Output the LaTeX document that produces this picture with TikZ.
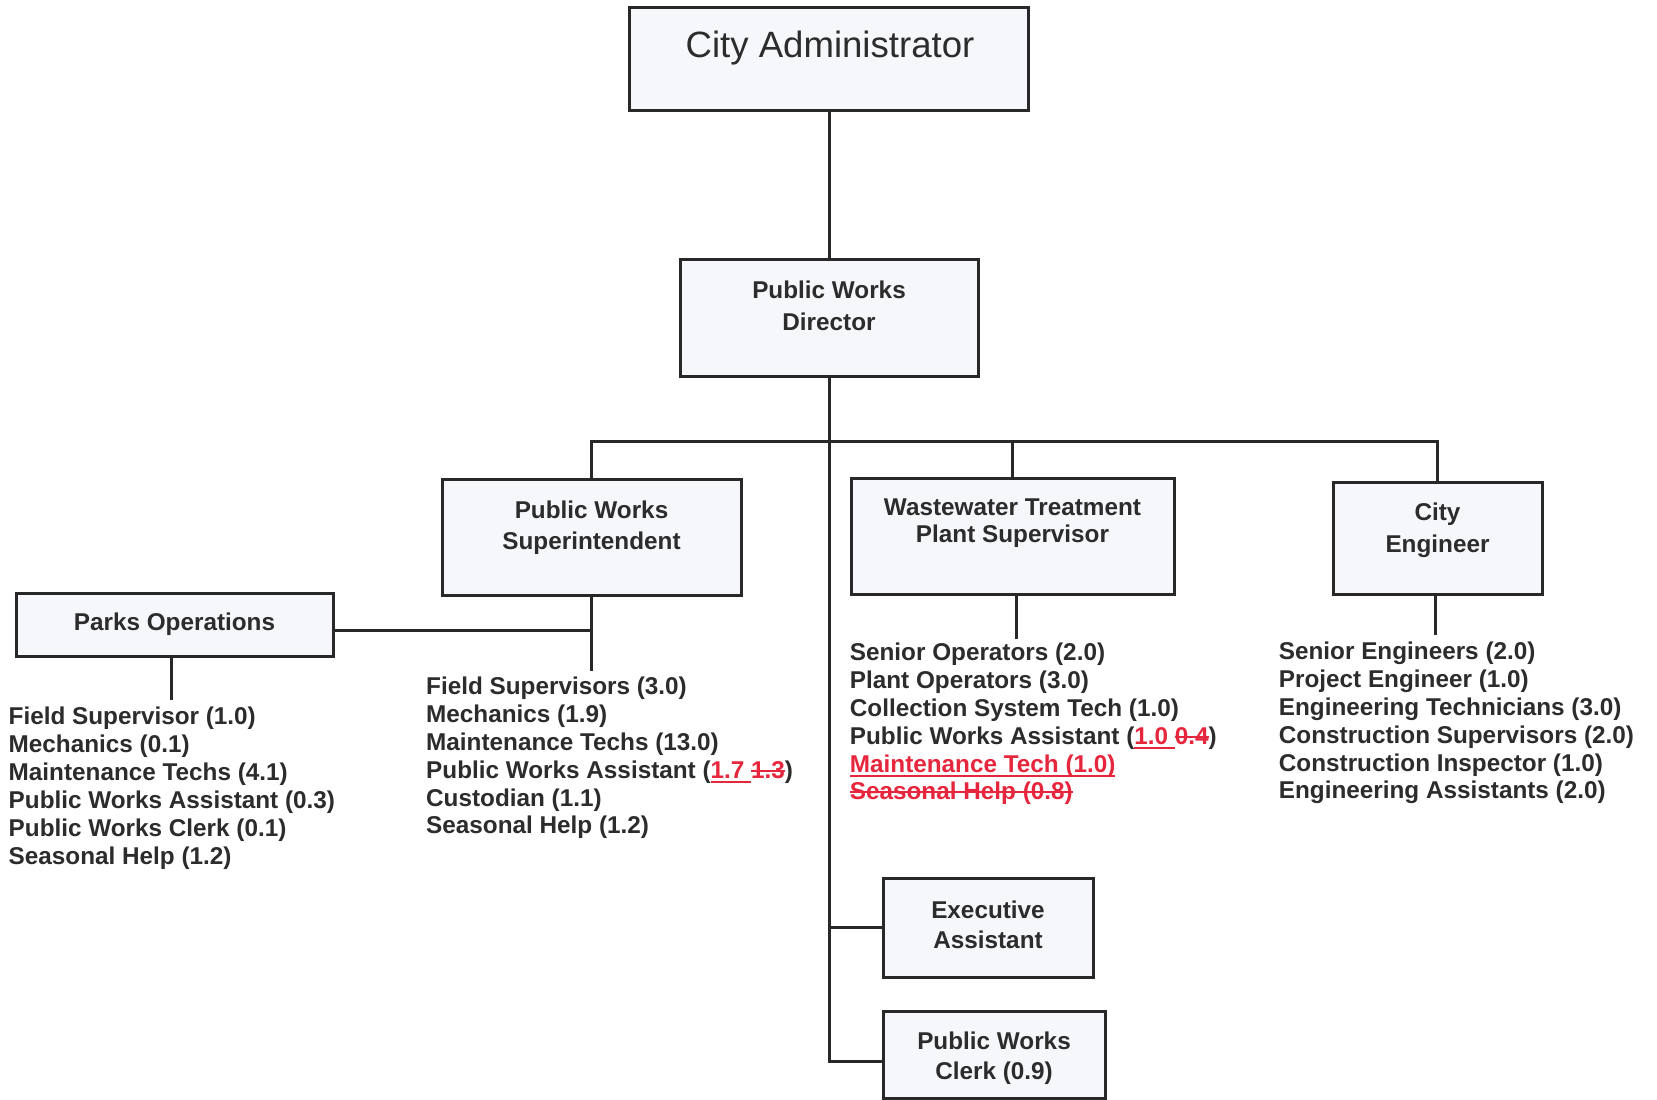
\documentclass[tikz,border=0pt]{standalone}
\usepackage{fontspec}
\setmainfont{Liberation Sans}
\newcommand{\myunder}[1]{\leavevmode\setbox0\hbox{#1}\rlap{\rule[-4.5pt]{\wd0}{2pt}}\box0}
\newcommand{\mystrike}[1]{\leavevmode\setbox0\hbox{#1}\rlap{\rule[6.5pt]{\wd0}{2pt}}\box0}
\definecolor{ink}{RGB}{44,44,44}
\definecolor{lineink}{RGB}{40,40,40}
\definecolor{boxfill}{RGB}{245,247,250}
\definecolor{pwred}{RGB}{230,38,60}
\begin{document}
\begin{tikzpicture}[x=1pt,y=-1pt,
  box/.style={draw=lineink, line width=3pt, fill=boxfill, inner sep=0pt},
  boxtxt/.style={anchor=north, inner sep=0pt, align=center, text=ink,
    font=\fontsize{24.3}{#1}\selectfont\bfseries},
  boxtxt/.default=31,
  listtxt/.style={anchor=north west, inner sep=0pt, align=left, text=ink,
    font=\fontsize{24.3}{27.9}\selectfont\bfseries},
  conn/.style={draw=lineink, line width=3pt}]
\fill[white] (0,0) rectangle (1657,1100);
\useasboundingbox (0,0) rectangle (1657,1100);

% boxes
\node[box, minimum width=399pt, minimum height=103pt] (ca) at (829,58.5) {};
\node[box, minimum width=298pt, minimum height=117pt] (pwd) at (829,317.5) {};
\node[box, minimum width=299pt, minimum height=116pt] (pws) at (591.5,537) {};
\node[box, minimum width=323pt, minimum height=116pt] (wwtp) at (1012.5,536) {};
\node[box, minimum width=209pt, minimum height=112pt] (ce) at (1437.5,538) {};
\node[box, minimum width=317pt, minimum height=63pt] (parks) at (174.5,624.5) {};
\node[box, minimum width=210pt, minimum height=99pt] (exec) at (988,927.5) {};
\node[box, minimum width=222pt, minimum height=87pt] (pwc) at (994,1054.5) {};

% box texts
\node[anchor=base, inner sep=0pt, text=ink, font=\fontsize{36.6}{40}\selectfont] (catxt) at (830,57) {City Administrator};
\node[boxtxt=32] (pwdtxt) at (829,280.6) {Public Works\\Director};
\node[boxtxt=31] (pwstxt) at (591.5,500.6) {Public Works\\Superintendent};
\node[boxtxt=27] (wwtptxt) at (1012.5,498.6) {Wastewater Treatment\\Plant Supervisor};
\node[boxtxt=32] (cetxt) at (1437.5,502.6) {City\\Engineer};
\node[anchor=base, inner sep=0pt, text=ink, font=\fontsize{24.3}{28}\selectfont\bfseries] (parkstxt) at (174.5,630.5) {Parks Operations};
\node[boxtxt=30] (exectxt) at (988,900.6) {Executive\\Assistant};
\node[boxtxt=30] (pwctxt) at (994,1031.6) {Public Works\\Clerk (0.9)};

% connector helpers
\coordinate (bus) at (829,441);
\coordinate (pwsend) at (591.5,671);
\coordinate (parksend) at (171,700);
\coordinate (wwtpend) at (1016.6,639);
\coordinate (ceend) at (1435,635);

% connectors
\draw[conn] (ca.south) -- (pwd.north);
\draw[conn] (pwd.south) |- ([yshift=-6.5pt]pwc.west);
\draw[conn] (pws.north) |- (bus) -| (ce.north);
\draw[conn] (wwtp.north) -- (wwtp.north |- bus);
\draw[conn] (exec.west) -- (exec.west -| bus);
\draw[conn] (pws.south) -- (pwsend);
\draw[conn] ([yshift=-5.5pt]parks.east) -- ([yshift=-5.5pt]parks.east -| pws.south);
\draw[conn] (parks.south -| parksend) -- (parksend);
\draw[conn] (wwtp.south -| wwtpend) -- (wwtpend);
\draw[conn] (ce.south -| ceend) -- (ceend);

% lists
\node[listtxt] (parkslist) at (8.5,707.1) {Field Supervisor (1.0)\\Mechanics (0.1)\\Maintenance Techs (4.1)\\Public Works Assistant (0.3)\\Public Works Clerk (0.1)\\Seasonal Help (1.2)};
\node[listtxt] (pwslist) at (426,676.6) {Field Supervisors (3.0)\\Mechanics (1.9)\\Maintenance Techs (13.0)\\Public Works Assistant (\textcolor{pwred}{\myunder{1.7\ }\mystrike{1.3}})\\Custodian (1.1)\\Seasonal Help (1.2)};
\node[listtxt] (wwtplist) at (849.7,642.6) {Senior Operators (2.0)\\Plant Operators (3.0)\\Collection System Tech (1.0)\\Public Works Assistant (\textcolor{pwred}{\myunder{1.0\ }\mystrike{0.4}})\\\textcolor{pwred}{\myunder{Maintenance Tech (1.0)}}\\\textcolor{pwred}{\mystrike{Seasonal Help (0.8)}}};
\node[listtxt] (celist) at (1278.7,641.6) {Senior Engineers (2.0)\\Project Engineer (1.0)\\Engineering Technicians (3.0)\\Construction Supervisors (2.0)\\Construction Inspector (1.0)\\Engineering Assistants (2.0)};
\end{tikzpicture}
\end{document}
